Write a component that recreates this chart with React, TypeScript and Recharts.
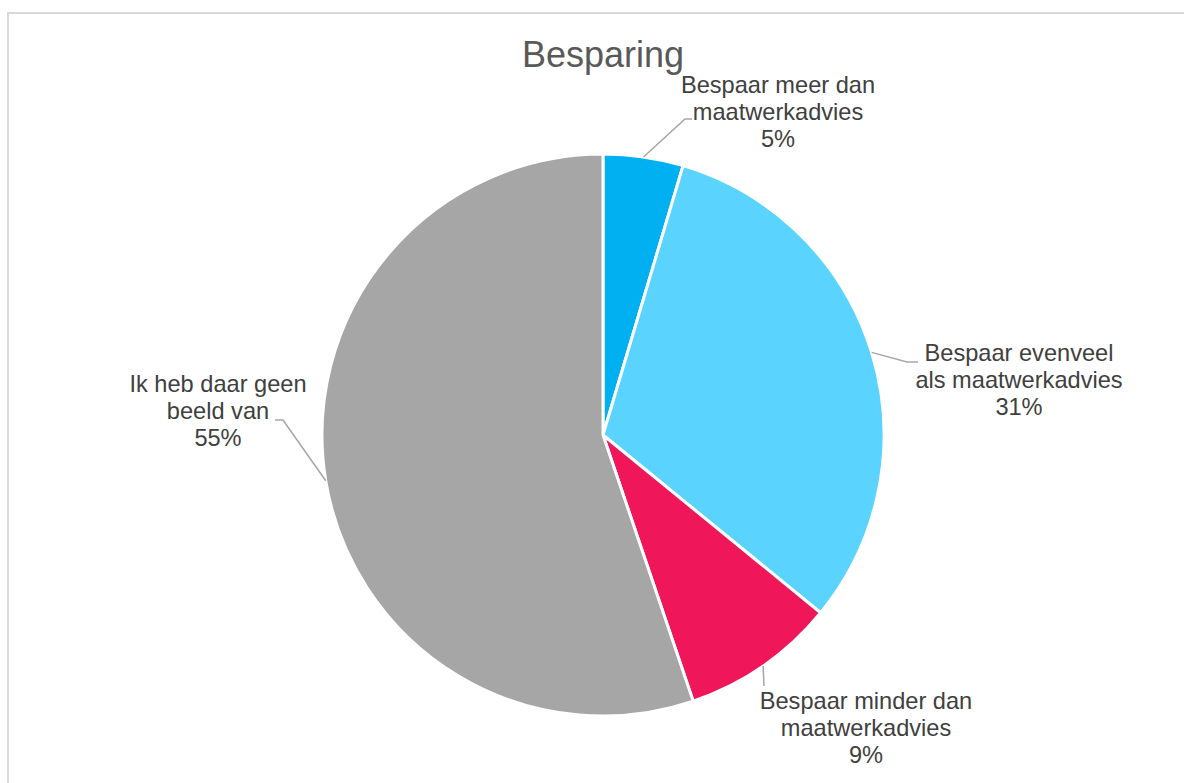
import React from "react";
import { PieChart, Pie, Cell } from "recharts";

// shares of respondents
const categories = [
    "Bespaar meer dan maatwerkadvies",
    "Bespaar evenveel als maatwerkadvies",
    "Bespaar minder dan maatwerkadvies",
    "Ik heb daar geen beeld van",
];
const shares = [4.6, 31.3, 8.9, 55.2];
const wrapped = [
    ["Bespaar meer dan", "maatwerkadvies"],
    ["Bespaar evenveel", "als maatwerkadvies"],
    ["Bespaar minder dan", "maatwerkadvies"],
    ["Ik heb daar geen", "beeld van"],
];

const colors = ["#00b0f0", "#5bd3ff", "#ef1659", "#a6a6a6"];

// label placement (Excel "best fit" spots), chart coordinates
const labelLayout = [
    { tx: 778, ty: 93, leader: [[685, 119], [692, 119]] },
    { tx: 1019, ty: 361, leader: [[907, 362], [918, 362]] },
    { tx: 866, ty: 709, leader: [[764, 686]] },
    { tx: 218, ty: 392, leader: [[283, 420], [275, 420]] },
];

const W = 1184;
const H = 783;
const CX = 603;
const CY = 435;
const R = 281;
const FONT = "'Liberation Sans', Arial, sans-serif";

const data = categories.map((name, i) => ({ name, value: shares[i] }));

const renderLabel = (props: any) => {
    const { cx, cy, midAngle, outerRadius, index, percent } = props;
    const lay = labelLayout[index];
    const rad = Math.PI / 180;
    const sx = cx + outerRadius * Math.cos(-midAngle * rad);
    const sy = cy + outerRadius * Math.sin(-midAngle * rad);
    const ox = cx - CX;
    const oy = cy - CY;
    const pts = [[sx, sy], ...lay.leader.map(([x, y]) => [x + ox, y + oy])];
    const lines = [...wrapped[index], `${Math.round(percent * 100)}%`];
    return (
        <g key={`lbl-${index}`}>
            <polyline
                points={pts.map((p) => p.join(",")).join(" ")}
                fill="none"
                stroke="#a6a6a6"
                strokeWidth={1.5}
            />
            <text
                x={lay.tx + ox}
                y={lay.ty + oy}
                textAnchor="middle"
                fill="#404040"
                fontSize={23.6}
                fontFamily={FONT}
            >
                {lines.map((l, i) => (
                    <tspan key={i} x={lay.tx + ox} dy={i === 0 ? 0 : 27}>
                        {l}
                    </tspan>
                ))}
            </text>
        </g>
    );
};

export default function App() {
    return (
        <div style={{ position: "relative", width: W, height: H, overflow: "hidden", background: "#fff" }}>
            <style>{`body{margin:0;overflow:hidden;}`}</style>
            <div
                style={{
                    position: "absolute",
                    left: 7,
                    top: 12,
                    width: 1300,
                    height: 900,
                    border: "2px solid #d9d9d9",
                    boxSizing: "border-box",
                }}
            />
            <svg style={{ position: "absolute", left: 0, top: 0 }} width={W} height={80}>
                <text x={603} y={67} textAnchor="middle" fill="#595959" fontSize={36} fontFamily={FONT}>
                    Besparing
                </text>
            </svg>
            <div style={{ position: "absolute", left: 0, top: 0 }}>
                <PieChart width={W} height={H} margin={{ top: 0, right: 0, bottom: 0, left: 0 }}>
                    <Pie
                        data={data}
                        dataKey="value"
                        nameKey="name"
                        cx={CX}
                        cy={CY}
                        outerRadius={R}
                        startAngle={90}
                        endAngle={-270}
                        stroke="#ffffff"
                        strokeWidth={3}
                        label={renderLabel}
                        labelLine={false}
                        isAnimationActive={false}
                    >
                        {data.map((d, i) => (
                            <Cell key={d.name} fill={colors[i]} />
                        ))}
                    </Pie>
                </PieChart>
            </div>
        </div>
    );
}
